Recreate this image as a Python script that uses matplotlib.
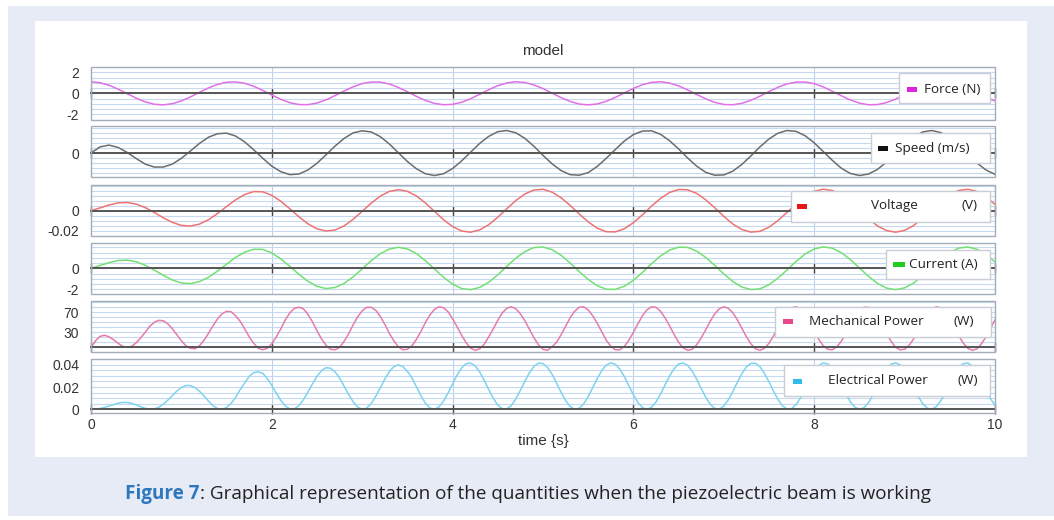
import numpy as np
import matplotlib.pyplot as plt
from matplotlib.patches import Rectangle
from matplotlib.ticker import MultipleLocator

# sample times (s): slow quantities every 0.1 s, powers every 0.05 s
t_slow = np.linspace(0, 10, 101)
t_fast = np.linspace(0, 10, 201)

# values
force = [1.10, 1.01, 0.77, 0.40, -0.03, -0.46, -0.81, -1.04, -1.10, -0.99,
         -0.72, -0.34, 0.10, 0.52, 0.85, 1.06, 1.09, 0.96, 0.67, 0.28,
         -0.16, -0.57, -0.89, -1.07, -1.08, -0.92, -0.62, -0.21, 0.22, 0.62,
         0.93, 1.08, 1.07, 0.89, 0.56, 0.15, -0.29, -0.68, -0.96, -1.09,
         -1.05, -0.85, -0.51, -0.09, 0.35, 0.73, 0.99, 1.10, 1.03, 0.80,
         0.45, 0.02, -0.41, -0.77, -1.02, -1.10, -1.01, -0.76, -0.39, 0.04,
         0.47, 0.82, 1.04, 1.10, 0.98, 0.71, 0.33, -0.11, -0.52, -0.86,
         -1.06, -1.09, -0.95, -0.66, -0.27, 0.17, 0.58, 0.90, 1.07, 1.08,
         0.92, 0.61, 0.20, -0.23, -0.63, -0.93, -1.09, -1.07, -0.88, -0.55,
         -0.14, 0.30, 0.68, 0.97, 1.09, 1.05, 0.84, 0.50, 0.08, -0.36,
         -0.73]

speed = [0, 21, 27, 19, 2, -19, -38, -48, -48, -38,
         -18, 7, 33, 54, 66, 68, 58, 38, 11, -18,
         -45, -64, -74, -72, -58, -35, -6, 24, 50, 69,
         76, 72, 56, 31, 1, -29, -54, -71, -77, -71,
         -53, -27, 3, 33, 57, 73, 77, 69, 50, 23,
         -8, -37, -60, -74, -76, -67, -46, -18, 12, 41,
         63, 75, 76, 64, 42, 14, -17, -45, -66, -76,
         -75, -62, -39, -10, 21, 48, 68, 77, 74, 59,
         35, 5, -25, -52, -70, -77, -72, -56, -31, -1,
         29, 55, 72, 77, 70, 53, 26, -4, -34, -58,
         -73]

voltage_mv = [0.0, 2.8, 5.7, 7.8, 8.2, 6.6, 3.1, -1.8, -7.1, -11.7,
              -14.7, -15.4, -13.4, -9.0, -2.8, 4.2, 10.9, 16.2, 19.1, 18.9,
              15.4, 9.4, 1.9, -6.1, -13.1, -18.1, -20.3, -19.3, -15.2, -8.6,
              -0.6, 7.6, 14.6, 19.3, 21.0, 19.4, 14.7, 7.6, -0.7, -9.0,
              -15.9, -20.3, -21.5, -19.2, -14.0, -6.5, 2.0, 10.2, 16.7, 20.7,
              21.4, 18.6, 13.0, 5.3, -3.2, -11.2, -17.5, -21.0, -21.2, -18.0,
              -12.0, -4.1, 4.5, 12.3, 18.2, 21.2, 20.9, 17.3, 10.9, 2.9,
              -5.7, -13.3, -18.8, -21.4, -20.6, -16.5, -9.8, -1.6, 6.9, 14.3,
              19.4, 21.5, 20.2, 15.7, 8.7, 0.3, -8.0, -15.2, -19.9, -21.5,
              -19.7, -14.8, -7.5, 0.9, 9.2, 16.0, 20.3, 21.4, 19.2, 13.9,
              6.3]

current = [0.00, 0.27, 0.54, 0.74, 0.78, 0.63, 0.29, -0.17, -0.67, -1.11,
           -1.40, -1.46, -1.27, -0.86, -0.27, 0.40, 1.04, 1.54, 1.81, 1.80,
           1.46, 0.89, 0.18, -0.58, -1.24, -1.72, -1.93, -1.83, -1.44, -0.82,
           -0.06, 0.72, 1.39, 1.83, 2.00, 1.84, 1.40, 0.72, -0.07, -0.86,
           -1.51, -1.93, -2.04, -1.82, -1.33, -0.62, 0.19, 0.97, 1.59, 1.97,
           2.03, 1.77, 1.24, 0.50, -0.30, -1.06, -1.66, -2.00, -2.01, -1.71,
           -1.14, -0.39, 0.43, 1.17, 1.73, 2.01, 1.99, 1.64, 1.04, 0.28,
           -0.54, -1.26, -1.79, -2.03, -1.96, -1.57, -0.93, -0.15, 0.66, 1.36,
           1.84, 2.04, 1.92, 1.49, 0.83, 0.03, -0.76, -1.44, -1.89, -2.04,
           -1.87, -1.41, -0.71, 0.09, 0.87, 1.52, 1.93, 2.03, 1.82, 1.32,
           0.60]

mech_power = [0, 13, 22, 24, 21, 15, 8, 2, 0, 2,
              9, 19, 30, 42, 50, 54, 53, 47, 37, 25,
              13, 3, -2, -3, 3, 14, 28, 43, 57, 67,
              72, 71, 63, 52, 37, 21, 8, -2, -5, -2,
              7, 21, 37, 55, 69, 78, 80, 77, 66, 51,
              33, 17, 4, -4, -5, 0, 12, 27, 45, 61,
              73, 80, 80, 74, 62, 46, 28, 13, 1, -5,
              -4, 3, 16, 32, 50, 65, 76, 81, 79, 71,
              57, 41, 24, 9, -2, -6, -3, 6, 21, 37,
              54, 69, 78, 81, 77, 67, 53, 36, 19, 5,
              -4, -6, 1, 10, 25, 42, 59, 72, 80, 81,
              75, 63, 48, 31, 14, 2, -5, -5, 2, 14,
              30, 47, 63, 75, 81, 80, 72, 59, 43, 26,
              10, -1, -6, -4, 5, 19, 35, 52, 67, 77,
              81, 78, 69, 55, 38, 21, 7, -3, -6, -2,
              8, 23, 40, 57, 71, 79, 81, 76, 65, 50,
              33, 16, 3, -4, -5, 1, 12, 28, 45, 61,
              74, 80, 80, 73, 61, 45, 28, 12, 0, -5,
              -4, 4, 17, 33, 50, 65, 76, 81, 79, 70,
              57, 40, 23, 8, -2, -6, -3, 7, 21, 38,
              55]

elec_power_mw = [0.0, 0.2, 0.7, 1.7, 3.0, 4.4, 5.5, 6.2, 6.1, 5.3,
                 4.0, 2.3, 0.9, 0.1, 0.3, 1.8, 4.5, 8.2, 12.4, 16.4,
                 19.6, 21.4, 21.3, 19.6, 16.3, 11.9, 7.3, 3.3, 0.7, 0.0,
                 1.6, 5.3, 10.7, 17.7, 23.7, 29.6, 33.0, 33.7, 32.3, 27.7,
                 21.5, 14.4, 8.0, 2.9, 0.3, 0.4, 3.3, 8.6, 15.5, 22.9,
                 29.6, 34.8, 37.4, 36.9, 33.6, 28.0, 20.8, 13.3, 6.7, 2.0,
                 0.0, 1.1, 5.2, 11.6, 19.2, 27.1, 33.8, 38.3, 39.9, 38.4,
                 34.0, 28.3, 20.1, 12.1, 5.4, 1.1, 0.0, 2.2, 7.4, 14.6,
                 22.9, 30.8, 37.2, 41.0, 41.6, 39.0, 33.5, 26.0, 17.7, 9.9,
                 3.8, 0.5, 0.4, 3.4, 9.3, 17.0, 25.3, 32.9, 38.6, 41.5,
                 41.2, 37.6, 31.5, 23.6, 15.3, 7.9, 2.5, 0.1, 0.9, 4.9,
                 11.4, 19.4, 27.7, 34.8, 39.8, 41.8, 40.5, 36.1, 29.3, 21.2,
                 13.0, 6.1, 1.5, 0.0, 1.8, 6.6, 13.6, 21.9, 29.9, 36.5,
                 40.7, 41.7, 39.5, 34.3, 27.0, 18.7, 10.8, 4.5, 0.7, 0.2,
                 2.9, 8.5, 16.0, 24.3, 32.0, 38.1, 41.3, 41.4, 38.2, 32.3,
                 24.6, 16.3, 8.7, 3.1, 0.2, 0.6, 4.3, 10.5, 18.4, 26.7,
                 34.0, 39.3, 41.7, 40.8, 36.8, 30.2, 22.2, 14.0, 6.8, 1.9,
                 0.0, 1.4, 5.9, 12.7, 20.8, 29.0, 35.8, 40.4, 41.8, 39.9,
                 35.1, 28.0, 19.8, 11.7, 5.1, 1.0, 0.1, 2.4, 7.6, 15.0,
                 23.3, 31.2, 37.4, 41.1, 41.6, 38.8, 33.2, 25.6, 17.3, 9.6,
                 3.6]

voltage = np.array(voltage_mv) / 1000.0
elec_power = np.array(elec_power_mw) / 1000.0

W, H = 1054, 520


def fx(x):
    return x / W


def fy(y):
    return 1 - y / H


# one entry per strip: data, look, y axis and the legend box (pixel layout)
panels = [
    dict(t=t_slow, y=force, color='#e070e6', px=(67.3, 120.0),
         ylim=(-2.54, 2.48), ticks=[-2, 0, 2], labels=['-2', '0', '2'], step=0.5,
         box=(899, 73.3, 990, 103.3), mark=(907, 917, 89.3), mcolor='#dd22dd',
         texts=[(924, 'Force (N)')]),
    dict(t=t_slow, y=speed, color='#6c6c6c', px=(126.0, 177.3),
         ylim=(-83.1, 92.4), ticks=[0], labels=['0'], step=17,
         box=(870.7, 132.7, 990, 162.7), mark=(878, 888, 148.3), mcolor='#111111',
         texts=[(895, 'Speed (m/s)')]),
    dict(t=t_slow, y=voltage, color='#ef7373', px=(185.0, 236.5),
         ylim=(-0.0258, 0.0257), ticks=[-0.02, 0], labels=['-0.02', '0'], step=0.005,
         box=(790.7, 190.7, 990, 222.3), mark=(797, 807, 206), mcolor='#e81515',
         texts=[(870.7, 'Voltage'), (962, '(V)')]),
    dict(t=t_slow, y=current, color='#72e072', px=(243.0, 294.3),
         ylim=(-2.48, 2.41), ticks=[-2, 0], labels=['-2', '0'], step=0.5,
         box=(885.7, 250, 990, 279), mark=(893, 905, 264), mcolor='#22cc22',
         texts=[(909, 'Current (A)')]),
    dict(t=t_fast, y=mech_power, color='#e67ba9', px=(301.0, 352.3),
         ylim=(-10.0, 92.6), ticks=[30, 70], labels=['30', '70'], step=10,
         box=(775, 306.7, 990.7, 336.7), mark=(783, 793, 321.7), mcolor='#e8488a',
         texts=[(809, 'Mechanical Power'), (953, '(W)')]),
    dict(t=t_fast, y=elec_power, color='#7fd3ee', px=(359.0, 413.3),
         ylim=(-0.0036, 0.0452), ticks=[0, 0.02, 0.04], labels=['0', '0.02', '0.04'],
         step=0.005,
         box=(784.3, 365, 990, 395.7), mark=(793, 802, 381), mcolor='#33bbee',
         texts=[(827.7, 'Electrical Power'), (957, '(W)')]),
]

fig = plt.figure(figsize=(W / 100, H / 100), dpi=100)
fig.add_artist(Rectangle((fx(8), fy(516)), fx(1054) - fx(8), (516 - 6) / H,
                         transform=fig.transFigure, facecolor='#e7ebf6',
                         edgecolor='none', zorder=-2))
fig.add_artist(Rectangle((fx(35), fy(457)), (1027 - 35) / W, (457 - 21) / H,
                         transform=fig.transFigure, facecolor='white',
                         edgecolor='none', zorder=-1))

tick_font = dict(family='Liberation Sans', size=10)
leg_font = dict(family='Open Sans', size=9.7, color='#222222')

for i, p in enumerate(panels):
    top, bottom = p['px']
    ax = fig.add_axes([fx(91), fy(bottom), (995 - 91) / W, (bottom - top) / H])
    ax.plot(p['t'], p['y'], color=p['color'], lw=1.1, zorder=3)
    ax.set_xlim(0, 10)
    ax.set_ylim(*p['ylim'])
    ax.set_xticks([0, 2, 4, 6, 8, 10])
    ax.set_yticks(p['ticks'])
    ax.set_yticklabels(p['labels'], fontdict=tick_font, color='#333333')
    ax.yaxis.set_minor_locator(MultipleLocator(p['step']))
    ax.grid(which='both', axis='y', color='#c7d9ef', lw=0.8)
    ax.grid(which='major', axis='x', color='#bcd2ea', lw=0.8)
    ax.set_axisbelow(True)

    for side in ['top', 'left', 'right']:
        ax.spines[side].set_visible(False)
    ax.spines['bottom'].set_position(('data', 0))
    ax.spines['bottom'].set_color('#555555')
    ax.spines['bottom'].set_linewidth(1.4)
    ax.spines['bottom'].set_zorder(4)
    ax.add_patch(Rectangle((0, 0), 1, 1, transform=ax.transAxes, fill=False,
                           edgecolor='#a3acb9', lw=1.0, clip_on=False, zorder=5))

    ax.tick_params(axis='y', which='both', length=0, pad=8.5)
    ax.tick_params(axis='x', which='major', direction='inout', length=7, width=1,
                   color='#444444', pad=3, labelbottom=(i == len(panels) - 1))
    if i == len(panels) - 1:
        ax.set_xticklabels(['0', '2', '4', '6', '8', '10'], fontdict=tick_font,
                           color='#333333')

    # legend box of this strip
    x0, y0, x1, y1 = p['box']
    fig.add_artist(Rectangle((fx(x0), fy(y1)), (x1 - x0) / W, (y1 - y0) / H,
                             transform=fig.transFigure, facecolor='white',
                             edgecolor='#c9cdd5', lw=1.0, zorder=6))
    mx0, mx1, my = p['mark']
    fig.add_artist(Rectangle((fx(mx0), fy(my + 2.5)), (mx1 - mx0) / W, 5 / H,
                             transform=fig.transFigure, facecolor=p['mcolor'],
                             edgecolor='none', zorder=7))
    for tx, s in p['texts']:
        fig.text(fx(tx), fy(my), s, ha='left', va='center', zorder=8, **leg_font)

fig.text(fx(543), fy(51), 'model', ha='center', va='center',
         family='Liberation Sans', size=11, color='#333333')
fig.text(fx(543), fy(441), 'time {s}', ha='center', va='center',
         family='Liberation Sans', size=11, color='#333333')

# caption: bold blue label followed by the plain text
cap = fig.text(fx(125), fy(494), 'Figure 7', ha='left', va='center',
               family='Open Sans', size=13.6, weight='bold', color='#2c77bd')
renderer = fig.canvas.get_renderer()
bb = cap.get_window_extent(renderer)
fig.text(bb.x1 / W, fy(494),
         ': Graphical representation of the quantities when the piezoelectric beam is working',
         ha='left', va='center', family='Open Sans', size=13.6, color='#222222')

fig.savefig('out.png', dpi=100)
